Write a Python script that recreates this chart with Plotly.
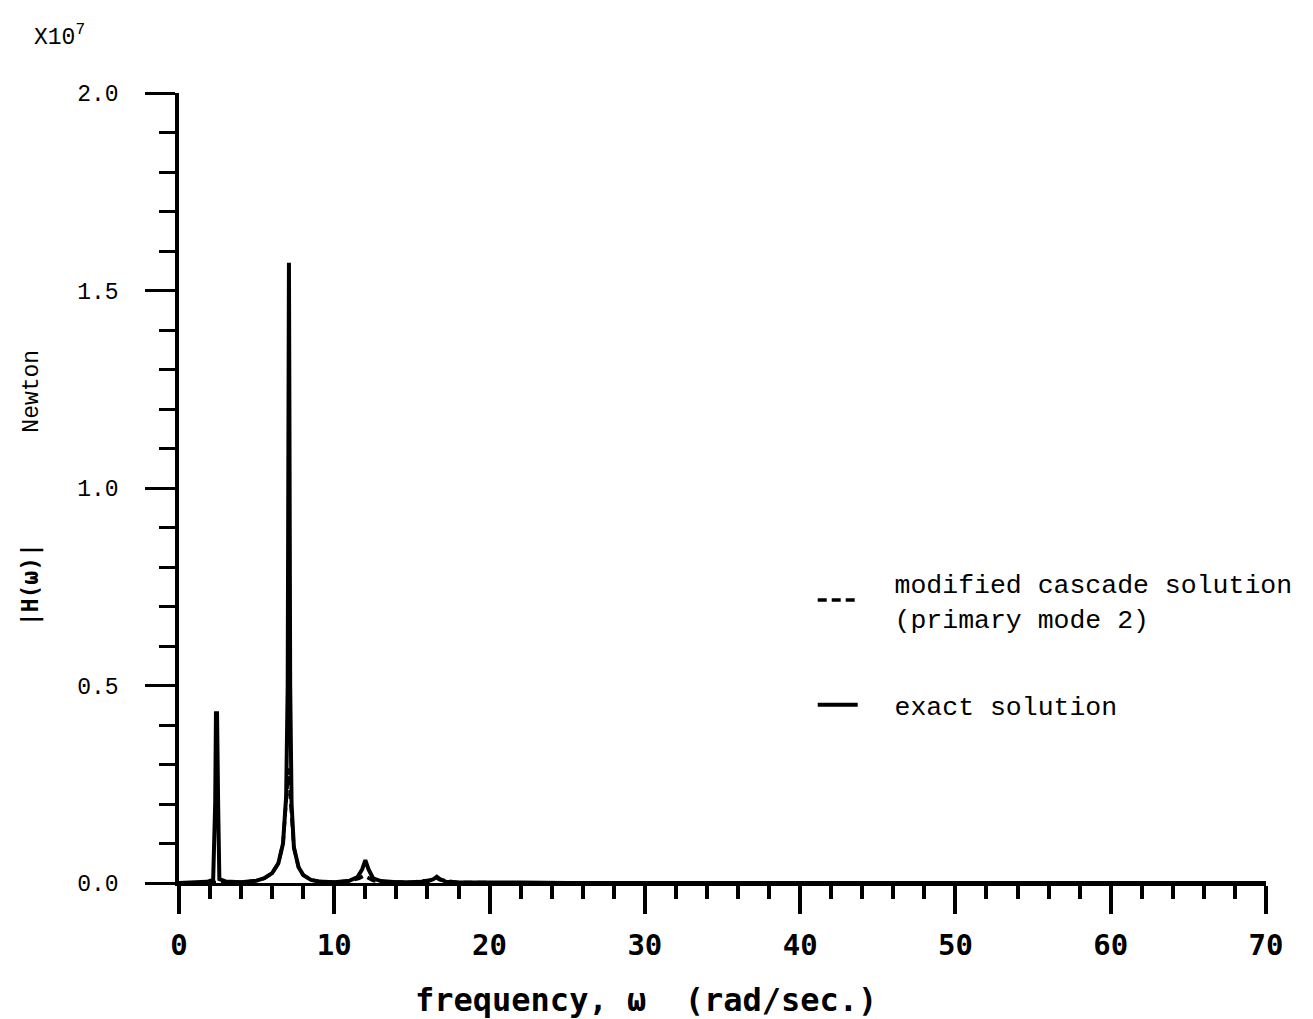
import plotly.graph_objects as go

# ---- data (|H(w)| in units of 1e7 N) ----
omega_exact = [0, 1.0, 1.8, 2.2, 2.33, 2.38, 2.45, 2.52, 2.6, 3.0, 4.0, 5.0, 5.5, 6.0, 6.4, 6.7,
               6.9, 7.0, 7.05, 7.08, 7.11, 7.16, 7.25, 7.4, 7.7, 8.0, 8.5, 9.0, 10.0, 11.0, 11.5,
               11.8, 12.0, 12.2, 12.5, 13.0, 14.0, 15.0, 16.0, 16.4, 16.6, 16.8, 17.2, 18.0, 20.0,
               21.0, 21.3, 22.0, 25.0, 70.0]
h_exact = [0.0, 0.001, 0.003, 0.008, 0.2, 0.43, 0.43, 0.2, 0.01, 0.004, 0.002, 0.006, 0.012, 0.025, 0.05, 0.1,
           0.22, 0.5, 1.2, 1.57, 1.2, 0.5, 0.2, 0.09, 0.04, 0.02, 0.008, 0.004, 0.002, 0.006, 0.015,
           0.035, 0.058, 0.035, 0.012, 0.005, 0.002, 0.002, 0.004, 0.01, 0.016, 0.01, 0.003, 0.001, 0.001,
           0.003, 0.003, 0.001, 0.0, 0.0]

omega_cascade = [0, 1.0, 2.0, 3.0, 4.0, 5.0, 5.5, 6.0, 6.4, 6.7, 6.9, 7.05, 7.2, 7.4, 7.7, 8.0,
                 8.5, 9.0, 10.0, 11.0, 11.6, 11.9, 12.1, 12.5, 13.0, 15.0, 16.4, 16.6, 16.8, 18.0, 70.0]
h_cascade = [0.0, 0.001, 0.002, 0.003, 0.002, 0.006, 0.012, 0.025, 0.05, 0.1, 0.2, 0.29, 0.2, 0.09, 0.04, 0.02,
             0.008, 0.004, 0.002, 0.005, 0.012, 0.018, 0.015, 0.006, 0.003, 0.002, 0.008, 0.012, 0.008, 0.001, 0.0]

x_ticks = [0, 10, 20, 30, 40, 50, 60, 70]
y_ticks = [0.0, 0.5, 1.0, 1.5, 2.0]

SERIF_MONO = "Liberation Mono, Courier New, monospace"
BOLD_MONO = "DejaVu Sans Mono, monospace"
PAD = "&nbsp;&nbsp;"

fig = go.Figure()
fig.add_trace(go.Scatter(
    x=omega_cascade, y=h_cascade, mode="lines",
    name=PAD + "modified cascade solution<br>" + PAD + "(primary mode 2)",
    line=dict(color="black", width=3.5, dash="9px,5px"),
    legendgroup="a",
))
fig.add_trace(go.Scatter(
    x=omega_exact, y=h_exact, mode="lines",
    name=PAD + "exact solution",
    line=dict(color="black", width=4),
    legendgroup="b",
))

fig.update_layout(
    width=1313, height=1019,
    margin=dict(l=179, r=47, t=93, b=136),
    paper_bgcolor="white", plot_bgcolor="white",
    showlegend=True,
    legend=dict(
        x=0.583, y=0.41, xanchor="left", yanchor="top",
        bgcolor="rgba(0,0,0,0)",
        font=dict(family=SERIF_MONO, size=26.5, color="black"),
        tracegroupgap=50, itemwidth=40,
    ),
    xaxis=dict(
        range=[0, 70], tickvals=x_ticks, ticktext=[str(v) for v in x_ticks],
        showgrid=False, zeroline=False,
        showline=True, linecolor="black", linewidth=3,
        ticks="outside", ticklen=28, tickwidth=3.5, tickcolor="black",
        minor=dict(dtick=2, ticks="outside", ticklen=13, tickwidth=3.5, tickcolor="black"),
        tickfont=dict(family=BOLD_MONO, size=29, color="black", weight="bold"),
        ticklabelstandoff=6,
    ),
    yaxis=dict(
        range=[0, 2.0], tickvals=y_ticks, tickformat=".1f",
        showgrid=False, zeroline=False,
        showline=True, linecolor="black", linewidth=3.5,
        ticks="outside", ticklen=30, tickwidth=3, tickcolor="black",
        minor=dict(dtick=0.1, ticks="outside", ticklen=16, tickwidth=2.5, tickcolor="black"),
        tickfont=dict(family=SERIF_MONO, size=23, color="black"),
        ticklabelstandoff=22,
    ),
)

fig.add_annotation(
    xref="paper", yref="paper", x=0.43, y=-0.148, xanchor="center", yanchor="middle",
    showarrow=False, text="<b>frequency, ω  (rad/sec.)</b>",
    font=dict(family=BOLD_MONO, size=32, color="black"),
)
fig.add_annotation(
    xref="paper", yref="paper", x=-0.136, y=0.5, xanchor="center", yanchor="middle",
    textangle=-90, showarrow=False,
    text="<b><span style='font-family:DejaVu Sans Mono'>|H(ω)|</span></b>"
         "&nbsp;&nbsp;&nbsp;&nbsp;&nbsp;&nbsp;&nbsp;&nbsp;Newton",
    font=dict(family=SERIF_MONO, size=23, color="black"),
)
fig.add_annotation(
    xref="paper", yref="paper", x=-0.135, y=1.05, xanchor="left", yanchor="bottom",
    showarrow=False, text="X10<sup>7</sup>",
    font=dict(family=SERIF_MONO, size=23, color="black"),
)

fig.write_html("out.html")
